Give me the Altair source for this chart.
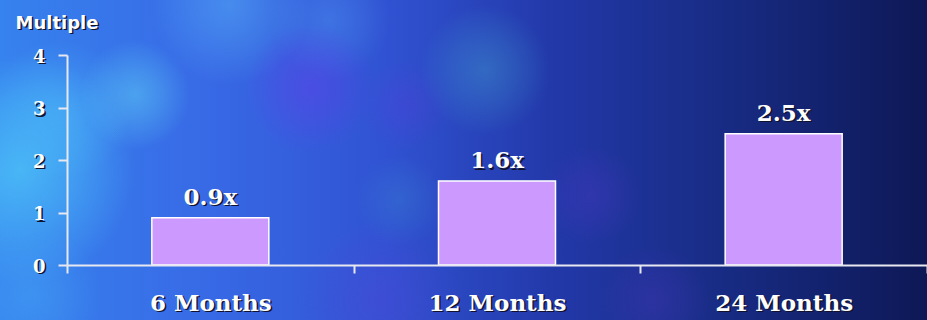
import altair as alt
import pandas as pd

# ---- data -------------------------------------------------------------
periods = ["6 Months", "12 Months", "24 Months"]
multiples = [0.9, 1.6, 2.5]
value_labels = ["0.9x", "1.6x", "2.5x"]
y_ticks = [0, 1, 2, 3, 4]

df = pd.DataFrame({"period": periods, "multiple": multiples, "label": value_labels})
one = pd.DataFrame({"k": [0]})

# ---- layout / style ---------------------------------------------------
W, H = 860, 210
PAD = {"left": 67, "top": 55, "right": 0, "bottom": 55}
SERIF = "DejaVu Serif"
SANS = "DejaVu Sans"
INK = "#ffffff"
SHADOW = "#12122a"
LINE = "#e8e8f0"
BAR = "#cc99ff"
SH = 1.5  # drop-shadow offset


def x_scale():
    return alt.Scale(domain=periods, paddingInner=0, paddingOuter=0)


def y_scale():
    return alt.Scale(domain=[0, 4], nice=False)


def x_axis(shadow=False):
    return alt.Axis(
        orient="bottom", title=None, labelAngle=0,
        labelFont=SERIF, labelFontSize=23, labelFontWeight="bold",
        labelColor=SHADOW if shadow else INK,
        labelPadding=19 + (SH if shadow else 0),
        labelOffset=SH if shadow else 0,
        tickBand="extent", tickSize=8, tickWidth=2,
        tickColor=LINE, tickOpacity=0 if shadow else 1,
        domain=not shadow, domainColor=LINE, domainWidth=2,
        grid=False, zindex=1 if shadow else 2,
    )


def y_axis(shadow=False):
    return alt.Axis(
        orient="left", values=y_ticks, format="d",
        title="Multiple", titleAngle=0, titleAlign="left",
        titleBaseline="alphabetic",
        titleX=-52 + (SH if shadow else 0), titleY=-27 + (SH if shadow else 0),
        titleFont=SANS, titleFontSize=18, titleFontWeight="bold",
        titleColor=SHADOW if shadow else INK,
        labelFont=SERIF, labelFontSize=18, labelFontWeight="bold",
        labelColor=SHADOW if shadow else INK,
        labelPadding=13 - (SH if shadow else 0),
        labelOffset=2 + (SH if shadow else 0),
        labelFlush=False,
        tickSize=9, tickWidth=2,
        tickColor=LINE, tickOpacity=0 if shadow else 1,
        domain=not shadow, domainColor=LINE, domainWidth=2,
        grid=False, zindex=1 if shadow else 2,
    )


def xy(axis_x=None, axis_y=None):
    return dict(
        x=alt.X("period:N", sort=periods, scale=x_scale(), axis=axis_x),
        y=alt.Y("multiple:Q", scale=y_scale(), axis=axis_y),
    )


# ---- backdrop: blue gradient with soft light patches --------------------
def full_rect():
    return dict(
        x=alt.value(-PAD["left"]), x2=alt.value(W + PAD["right"]),
        y=alt.value(-PAD["top"]), y2=alt.value(H + PAD["bottom"]),
    )


base_grad = alt.LinearGradient(
    gradient="linear", x1=0, y1=0, x2=1, y2=0,
    stops=[
        alt.GradientStop(offset=0.0, color="#3682ee"),
        alt.GradientStop(offset=0.22, color="#386ae6"),
        alt.GradientStop(offset=0.42, color="#3052d2"),
        alt.GradientStop(offset=0.6, color="#2238a8"),
        alt.GradientStop(offset=0.8, color="#172a80"),
        alt.GradientStop(offset=1.0, color="#0e1856"),
    ],
)
backdrop = alt.Chart(one).mark_rect(color=base_grad).encode(**full_rect())


def glow(cx, cy, r, rgb, alpha):
    grad = alt.RadialGradient(
        gradient="radial", x1=0.5, y1=0.5, r1=0, x2=0.5, y2=0.5, r2=0.5,
        stops=[
            alt.GradientStop(offset=0, color=f"rgba({rgb},{alpha})"),
            alt.GradientStop(offset=0.5, color=f"rgba({rgb},{alpha * 0.55})"),
            alt.GradientStop(offset=1, color=f"rgba({rgb},0)"),
        ],
    )
    ox, oy = PAD["left"], PAD["top"]
    return alt.Chart(one).mark_rect(color=grad).encode(
        x=alt.value(cx - r - ox), x2=alt.value(cx + r - ox),
        y=alt.value(cy - r - oy), y2=alt.value(cy + r - oy),
    )


glows = [
    glow(20, 170, 115, "80,205,250", 0.7),
    glow(60, 110, 70, "80,200,250", 0.4),
    glow(135, 95, 55, "95,210,245", 0.5),
    glow(230, 5, 80, "90,185,250", 0.45),
    glow(330, 20, 60, "90,170,250", 0.3),
    glow(310, 88, 65, "100,60,235", 0.45),
    glow(405, 105, 45, "90,60,220", 0.3),
    glow(485, 70, 65, "70,175,210", 0.35),
    glow(30, 295, 70, "70,170,245", 0.45),
    glow(380, 300, 80, "90,65,215", 0.3),
    glow(400, 200, 45, "60,150,210", 0.25),
    glow(590, 195, 50, "85,55,200", 0.3),
    glow(655, 300, 55, "80,55,190", 0.3),
]

# ---- chart ------------------------------------------------------------
axis_shadow = alt.Chart(df).mark_bar(opacity=0).encode(
    **xy(x_axis(True), y_axis(True))
)

bars = alt.Chart(df).mark_bar(
    color=BAR, stroke="white", strokeWidth=1.5, size=117
).encode(**xy(x_axis(), y_axis()))

text_style = dict(font=SERIF, fontSize=23, fontWeight="bold",
                  baseline="alphabetic", align="center")
label_shadow = alt.Chart(df).mark_text(
    color=SHADOW, dx=SH, dy=-13 + SH, **text_style
).encode(text="label:N", **xy())
labels = alt.Chart(df).mark_text(
    color=INK, dy=-13, **text_style
).encode(text="label:N", **xy())

chart = (
    alt.layer(backdrop, *glows, axis_shadow, bars, label_shadow, labels)
    .resolve_scale(x="independent", y="independent")
    .properties(
        width=W, height=H,
        autosize=alt.AutoSizeParams(type="none"),
        padding=PAD,
        background="#0e1856",
    )
    .configure_view(stroke=None)
)

chart.save("out.html", embed_options={"renderer": "svg", "actions": False})
